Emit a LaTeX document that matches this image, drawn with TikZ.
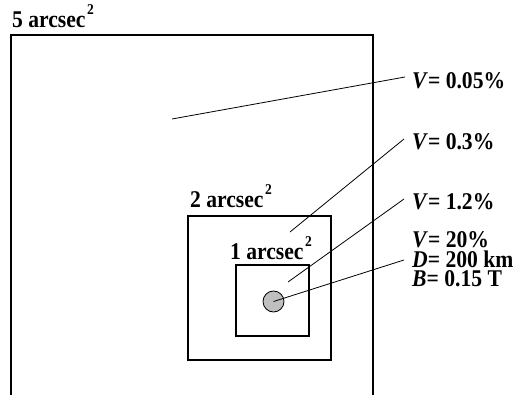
\documentclass[tikz,border=0pt]{standalone}
\usepackage{fontspec}
\setmainfont[FakeStretch=0.9]{Liberation Serif}
\begin{document}
\begin{tikzpicture}[x=1pt,y=-1pt,
  box/.style={draw=black,line width=1.6pt},
  lead/.style={draw=black,line width=0.8pt},
  lbl/.style={anchor=base west,inner sep=0pt,text height=15pt,text depth=1pt,font=\fontsize{24}{20}\selectfont\bfseries}]
\useasboundingbox (0,0) rectangle (517,395);
\newcommand{\sqtwo}{\kern1.5pt\raisebox{0.55em}{\fontsize{15}{15}\selectfont\bfseries 2}}
% boxes
\draw[box] (11,395) -- (11,35) -- (373,35) -- (373,395);
\node[box,inner sep=0pt,minimum width=143pt,minimum height=144pt,anchor=north west] (mid) at (187,215) {};
\node[box,inner sep=0pt,minimum width=73pt,minimum height=71pt,anchor=north west] (inner) at (235,264) {};
\node[draw=black,fill=black!25,circle,line width=0.8pt,minimum size=21pt,inner sep=0pt] (spot) at (273.5,301.5) {};
% labels
\node[lbl] (l5) at (12,28) {5 arcsec\sqtwo};
\node[lbl] (l2) at (190,208) {2 arcsec\sqtwo};
\node[lbl] (l1) at (230,260) {1 arcsec\sqtwo};
\node[lbl] (va) at (412,89) {\textit{V}= 0.05\%};
\node[lbl] (vb) at (412,149.5) {\textit{V}= 0.3\%};
\node[lbl] (vc) at (412,209.5) {\textit{V}= 1.2\%};
\node[lbl] (vd) at (412,248) {\textit{V}= 20\%};
\node[lbl] (dd) at (412,267.5) {\textit{D}= 200 km};
\node[lbl] (bd) at (412,287) {\textit{B}= 0.15 T};
% connector ends
\coordinate (a0) at (172,119);
\coordinate (a1) at (405,77);
\coordinate (b0) at (290,232);
\coordinate (b1) at (404,139);
\coordinate (c0) at (288,282);
\coordinate (c1) at (404,199);
\coordinate (d1) at (404,260);
\draw[lead] (a0) -- (a1);
\draw[lead] (b0) -- (b1);
\draw[lead] (c0) -- (c1);
\draw[lead] (spot.center) -- (d1);
\end{tikzpicture}
\end{document}
